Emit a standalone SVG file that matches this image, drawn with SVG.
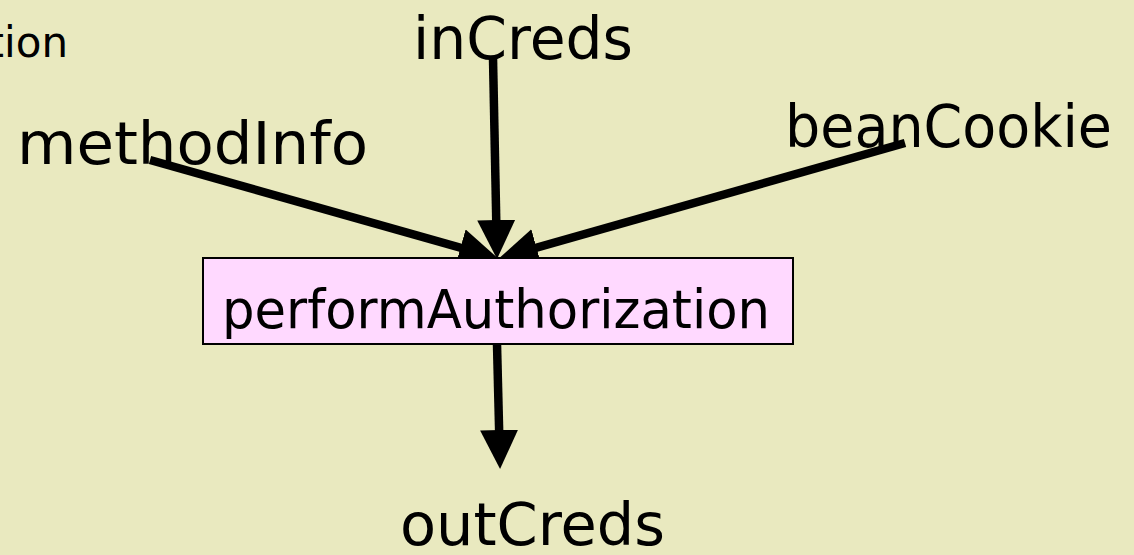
<svg xmlns="http://www.w3.org/2000/svg" width="1134" height="555" viewBox="0 0 1134 555">
  <defs>
    <marker id="head" markerUnits="userSpaceOnUse" markerWidth="42" markerHeight="40" refX="28" refY="19" orient="auto">
      <path d="M0,0 L39,19 L0,38 z" fill="#000"/>
    </marker>
    <style>
      .lbl { font-family: "Comic Sans MS", "DejaVu Sans", sans-serif; fill: #000; }
      .edge { stroke: #000; stroke-width: 8.5; fill: none; marker-end: url(#head); }
      .box { fill: #FFD9FF; stroke: #000; stroke-width: 2; }
    </style>
  </defs>

  <rect x="0" y="0" width="1134" height="555" fill="#E9E9BF"/>

  <text class="lbl" x="68" y="57" font-size="42" text-anchor="end">tion</text>

  <g id="connectors">
    <line class="edge" x1="150" y1="160" x2="487.4" y2="255.3"/>
    <line class="edge" x1="493" y1="58" x2="496.8" y2="248"/>
    <line class="edge" x1="905" y1="143" x2="509.6" y2="255.3"/>
    <line class="edge" x1="497" y1="344" x2="499.8" y2="458"/>
  </g>

  <g id="node-performAuthorization">
    <rect class="box" x="203" y="258" width="590" height="86"/>
    <text class="lbl" x="222" y="328" font-size="54" textLength="548" lengthAdjust="spacingAndGlyphs">performAuthorization</text>
  </g>

  <g id="node-methodInfo">
    <text class="lbl" x="17" y="164" font-size="58" textLength="351" lengthAdjust="spacingAndGlyphs">methodInfo</text>
  </g>

  <g id="node-inCreds">
    <text class="lbl" x="413" y="59" font-size="58" textLength="220" lengthAdjust="spacingAndGlyphs">inCreds</text>
  </g>

  <g id="node-beanCookie">
    <text class="lbl" x="785" y="147" font-size="58" textLength="327" lengthAdjust="spacingAndGlyphs">beanCookie</text>
  </g>

  <g id="node-outCreds">
    <text class="lbl" x="400" y="545" font-size="58" textLength="265" lengthAdjust="spacingAndGlyphs">outCreds</text>
  </g>
</svg>
